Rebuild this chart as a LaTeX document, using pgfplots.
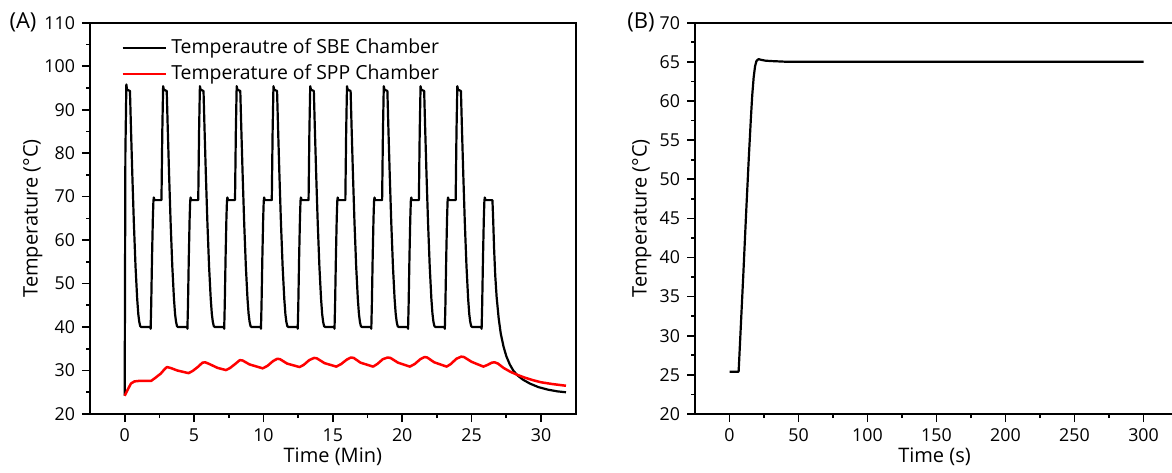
\documentclass[border=0pt]{standalone}
\usepackage{fontspec}
\setmainfont{Open Sans}
\usepackage{pgfplots}
\pgfplotsset{compat=1.18}
\pgfplotsset{
  myaxis/.style={
    scale only axis,
    height=195.65pt,
    axis line style={line width=1pt},
    tick align=outside,
    tick pos=left,
    major tick length=4pt,
    minor tick length=2pt,
    every tick/.style={black, line width=0.85pt},
    tick label style={font=\fontsize{8.9}{10}\selectfont},
    label style={font=\fontsize{9}{11}\selectfont},
    /pgf/number format/assume math mode=true,
    every axis plot/.append style={line join=round},
  }
}
\begin{document}
\begin{tikzpicture}[x=1pt,y=1pt]
\useasboundingbox (0,0) rectangle (586,236);
\begin{axis}[myaxis,
  at={(45pt,29pt)}, anchor=south west,
  width=242.85pt,
  xmin=-2.5, xmax=32.5, ymin=20, ymax=110,
  xtick={0,5,...,30}, minor x tick num=1,
  ytick={20,30,...,110}, minor y tick num=1,
  xlabel={Time (Min)}, ylabel={Temperature (°C)},
  every axis x label/.style={at={(axis description cs:0.5,-0.11)}, anchor=center},
  every axis y label/.style={at={(axis description cs:-0.118,0.5)}, rotate=90, anchor=center},
  legend style={at={(axis description cs:0.06,0.975)}, anchor=north west, draw=none, fill=none,
    font=\fontsize{9.7}{11}\selectfont, row sep=0pt, inner sep=1pt},
  legend cell align=left,
  legend image code/.code={\draw[#1, line width=1.1pt] (0pt,0pt) -- (21.8pt,0pt);},
]
\addplot[black, line width=1.1pt] coordinates {
(0,24.2) (0.05,80) (0.12,95.8) (0.17,94.6) (0.38,94.3) (0.45,86) (0.55,75) (0.66,64) (0.78,54) (0.90,46.5) (0.98,43) (1.05,41.2) (1.12,40.2) (1.20,40) (1.85,40) (1.87,39.6) (1.91,45) (1.97,56) (2.03,65) (2.07,69) (2.10,69.8) (2.15,69.2) (2.60,69.2)
(2.65,69.2) (2.71,85) (2.77,95.4) (2.82,94.6) (3.03,94.3) (3.10,86) (3.20,75) (3.31,64) (3.43,54) (3.55,46.5) (3.63,43) (3.70,41.2) (3.77,40.2) (3.85,40) (4.50,40) (4.52,39.6) (4.56,45) (4.62,56) (4.68,65) (4.72,69) (4.75,69.8) (4.80,69.2) (5.25,69.2)
(5.30,69.2) (5.36,85) (5.42,95.4) (5.47,94.6) (5.68,94.3) (5.75,86) (5.85,75) (5.96,64) (6.08,54) (6.20,46.5) (6.28,43) (6.35,41.2) (6.42,40.2) (6.50,40) (7.15,40) (7.17,39.6) (7.21,45) (7.27,56) (7.33,65) (7.37,69) (7.40,69.8) (7.45,69.2) (7.90,69.2)
(7.95,69.2) (8.01,85) (8.07,95.4) (8.12,94.6) (8.33,94.3) (8.40,86) (8.50,75) (8.61,64) (8.73,54) (8.85,46.5) (8.93,43) (9.00,41.2) (9.07,40.2) (9.15,40) (9.80,40) (9.82,39.6) (9.86,45) (9.92,56) (9.98,65) (10.02,69) (10.05,69.8) (10.10,69.2) (10.55,69.2)
(10.60,69.2) (10.66,85) (10.72,95.4) (10.77,94.6) (10.98,94.3) (11.05,86) (11.15,75) (11.26,64) (11.38,54) (11.50,46.5) (11.58,43) (11.65,41.2) (11.72,40.2) (11.80,40) (12.45,40) (12.47,39.6) (12.51,45) (12.57,56) (12.63,65) (12.67,69) (12.70,69.8) (12.75,69.2) (13.20,69.2)
(13.25,69.2) (13.31,85) (13.37,95.4) (13.42,94.6) (13.63,94.3) (13.70,86) (13.80,75) (13.91,64) (14.03,54) (14.15,46.5) (14.23,43) (14.30,41.2) (14.37,40.2) (14.45,40) (15.10,40) (15.12,39.6) (15.16,45) (15.22,56) (15.28,65) (15.32,69) (15.35,69.8) (15.40,69.2) (15.85,69.2)
(15.90,69.2) (15.96,85) (16.02,95.4) (16.07,94.6) (16.28,94.3) (16.35,86) (16.45,75) (16.56,64) (16.68,54) (16.80,46.5) (16.88,43) (16.95,41.2) (17.02,40.2) (17.10,40) (17.75,40) (17.77,39.6) (17.81,45) (17.87,56) (17.93,65) (17.97,69) (18.00,69.8) (18.05,69.2) (18.50,69.2)
(18.55,69.2) (18.61,85) (18.67,95.4) (18.72,94.6) (18.93,94.3) (19.00,86) (19.10,75) (19.21,64) (19.33,54) (19.45,46.5) (19.53,43) (19.60,41.2) (19.67,40.2) (19.75,40) (20.40,40) (20.42,39.6) (20.46,45) (20.52,56) (20.58,65) (20.62,69) (20.65,69.8) (20.70,69.2) (21.15,69.2)
(21.20,69.2) (21.26,85) (21.32,95.4) (21.37,94.6) (21.58,94.3) (21.65,86) (21.75,75) (21.86,64) (21.98,54) (22.10,46.5) (22.18,43) (22.25,41.2) (22.32,40.2) (22.40,40) (23.05,40) (23.07,39.6) (23.11,45) (23.17,56) (23.23,65) (23.27,69) (23.30,69.8) (23.35,69.2) (23.80,69.2)
(23.85,69.2) (23.91,85) (23.97,95.4) (24.02,94.6) (24.23,94.3) (24.30,86) (24.40,75) (24.51,64) (24.63,54) (24.75,46.5) (24.83,43) (24.90,41.2) (24.97,40.2) (25.05,40) (25.70,40) (25.72,39.6) (25.76,45) (25.82,56) (25.88,65) (25.92,69) (25.95,69.8) (26.00,69.2) (26.50,69.2)
(26.55,65) (26.62,58) (26.70,52) (26.80,47) (26.95,42) (27.10,38.5) (27.30,35.5) (27.50,33.3) (27.75,31.4) (28.0,30.0) (28.3,28.9) (28.7,27.9) (29.2,27.0) (29.8,26.2) (30.5,25.6) (31.2,25.2) (31.8,25.0)
};
\addlegendentry{Temperautre of SBE Chamber}
\addplot[red, line width=1.25pt] coordinates {
(0,24.2) (0.2,25.5) (0.45,27.0) (0.7,27.5) (1.0,27.6) (1.9,27.6) (2.2,28.3) (2.6,29.3) (2.9,30.4) (3.05,30.8) (3.3,30.6) (3.8,30.0) (4.6,29.4) (4.9,29.9) (5.3,30.9) (5.6,31.8) (5.8,31.9) (6.1,31.5) (6.7,30.6) (7.3,30.1) (7.6,30.6) (8.0,31.6) (8.3,32.4) (8.5,32.3) (9.0,31.4) (9.95,30.5) (10.3,31.1) (10.7,32.2) (11.0,32.7) (11.2,32.6) (11.7,31.6) (12.6,30.8) (12.9,31.3) (13.3,32.4) (13.65,32.9) (13.85,32.8) (14.4,31.7) (15.25,30.9) (15.6,31.5) (16.0,32.5) (16.3,33.0) (16.5,32.9) (17.0,31.8) (17.9,30.9) (18.2,31.5) (18.6,32.6) (18.95,33.0) (19.15,32.9) (19.7,31.8) (20.55,30.9) (20.9,31.5) (21.3,32.6) (21.6,33.1) (21.8,33.0) (22.3,31.9) (23.2,30.9) (23.5,31.5) (23.9,32.7) (24.25,33.2) (24.45,33.1) (25.0,32.0) (25.85,30.9) (26.15,31.3) (26.45,31.8) (26.65,31.9) (26.9,31.6) (27.3,30.6) (27.8,29.7) (28.3,29.0) (28.8,28.4) (29.4,27.8) (30.0,27.3) (30.8,26.9) (31.8,26.5)
};
\addlegendentry{Temperature of SPP Chamber}
\end{axis}
\node[font=\fontsize{11}{13}\selectfont] at (11.5pt,225pt) {(A)};
\begin{axis}[myaxis,
  at={(347.5pt,29pt)}, anchor=south west,
  width=239.5pt,
  xmin=-25, xmax=322.1, ymin=20, ymax=70,
  xtick={0,50,...,300}, minor x tick num=1,
  ytick={20,25,...,70}, minor y tick num=1,
  xlabel={Time (s)}, ylabel={Temperature (°C)},
  every axis x label/.style={at={(axis description cs:0.5,-0.11)}, anchor=center},
  every axis y label/.style={at={(axis description cs:-0.111,0.5)}, rotate=90, anchor=center},
]
\addplot[black, line width=1.1pt] coordinates {
(0,25.4) (6.6,25.4) (7.0,26.8) (8,30.5) (10,37.8) (12,45.5) (14,52.8) (15.5,57.8) (16.5,60.8) (17.5,63) (18.5,64.4) (19.5,65.1) (21,65.35) (23,65.25) (26,65.15) (30,65.1) (40,65.02) (60,65.0) (100,65.0) (150,65.0) (200,65.0) (250,65.0) (300,65.0)
};
\end{axis}
\node[font=\fontsize{11}{13}\selectfont] at (320.5pt,225pt) {(B)};
\end{tikzpicture}
\end{document}
